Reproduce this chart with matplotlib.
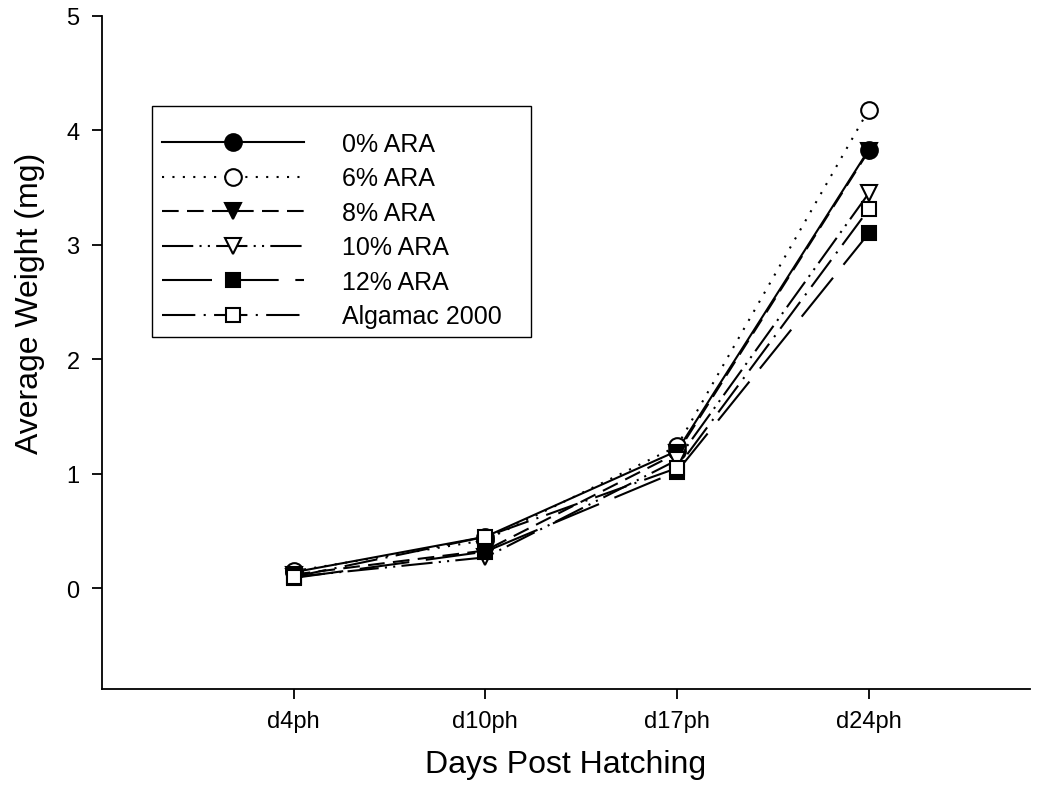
import matplotlib
matplotlib.use("Agg")
import matplotlib.pyplot as plt
from matplotlib.patches import Rectangle

days = ["d4ph", "d10ph", "d17ph", "d24ph"]
x_pos = [1, 2, 3, 4]

series_names = ["0% ARA", "6% ARA", "8% ARA", "10% ARA", "12% ARA", "Algamac 2000"]
ara0 = [0.14, 0.45, 1.20, 3.83]
ara6 = [0.15, 0.42, 1.24, 4.18]
ara8 = [0.12, 0.33, 1.18, 3.82]
ara10 = [0.10, 0.27, 1.12, 3.45]
ara12 = [0.09, 0.32, 1.02, 3.10]
algamac = [0.10, 0.45, 1.05, 3.31]
values = [ara0, ara6, ara8, ara10, ara12, algamac]

styles = [
    dict(linestyle="-", marker="o", mfc="black", ms=12),
    dict(linestyle=(0, (1, 4)), marker="o", mfc="white", ms=12),
    dict(linestyle=(0, (8, 4)), marker="v", mfc="black", ms=12),
    dict(linestyle=(0, (15, 3, 1, 3, 1, 3)), marker="v", mfc="white", ms=12),
    dict(linestyle=(0, (24, 8)), marker="s", mfc="black", ms=10.5),
    dict(linestyle=(0, (16, 4, 1, 4)), marker="s", mfc="white", ms=10.5),
]

plt.rcParams["font.family"] = ["Liberation Sans", "DejaVu Sans"]
fig = plt.figure(figsize=(10.55, 8.04), dpi=100)
ax = fig.add_axes([0.0967, 0.1418, 0.8793, 0.8371])

for name, vals, st in zip(series_names, values, styles):
    ax.plot(x_pos, vals, color="black", lw=1.5, linestyle=st["linestyle"],
            marker=st["marker"], markersize=st["ms"], mfc=st["mfc"], mec="black",
            mew=1.5, label=name)

ax.set_xlim(0, 4.84)
ax.set_ylim(-0.88, 5)
ax.set_xticks(x_pos)
ax.set_xticklabels(days)
ax.set_yticks([0, 1, 2, 3, 4, 5])
ax.spines["top"].set_visible(False)
ax.spines["right"].set_visible(False)
for s in ["left", "bottom"]:
    ax.spines[s].set_linewidth(1.3)
ax.tick_params(axis="both", direction="out", length=7.2, width=1.3, labelsize=17)
ax.tick_params(axis="x", pad=8)
ax.tick_params(axis="y", pad=9)
ax.set_xlabel("Days Post Hatching", fontsize=23, labelpad=12)
ax.set_ylabel("Average Weight (mg)", fontsize=23)
ax.yaxis.set_label_coords(-0.062, 0.574)

# legend frame (pixel geometry converted to axes fraction)
ax_w, ax_h = 928.0, 673.0
def fx(px):
    return (px - 102) / ax_w
def fy(py):
    return (690 - py) / ax_h

frame = Rectangle((fx(152), fy(338)), fx(531) - fx(152), fy(107) - fy(338),
                  transform=ax.transAxes, fill=True, facecolor="white",
                  edgecolor="black", lw=1.0, zorder=4)
ax.add_patch(frame)

leg = ax.legend(loc="upper left", bbox_to_anchor=(fx(162), fy(133)), fontsize=18,
                handlelength=5.7, handletextpad=1.5, labelspacing=0.42,
                frameon=False, borderpad=0, borderaxespad=0)
leg.set_zorder(5)

fig.savefig("out.png", dpi=100)
